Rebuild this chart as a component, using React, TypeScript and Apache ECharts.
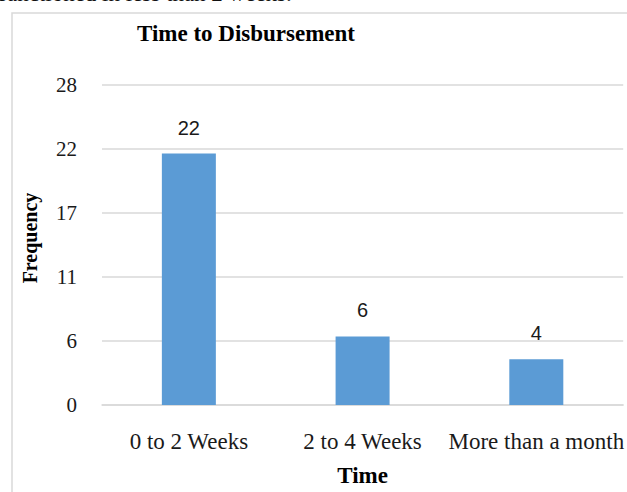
import React, { useEffect, useRef } from "react";
import * as echarts from "echarts";

const categories = ["0 to 2 Weeks", "2 to 4 Weeks", "More than a month"];
const frequencies = [22, 6, 4];
const yMin = 0;
const yMax = 28;
const yStep = 5.6;
const chartTitle = "Time to Disbursement";
const xTitle = "Time";
const yTitle = "Frequency";
const precedingLine = "sanctioned in less than 2 weeks.";

const SERIF = '"Liberation Serif", "Times New Roman", serif';
const SANS = '"Liberation Sans", Arial, sans-serif';
const GRID_GRAY = "#d9d9d9";
const BAR_BLUE = "#5b9bd5";
const TEXT = "#1a1a1a";

export default function App() {
  const ref = useRef<HTMLDivElement>(null);

  useEffect(() => {
    if (!ref.current) return;
    const chart = echarts.init(ref.current, undefined, { renderer: "svg" });
    chart.setOption({
      animation: false,
      backgroundColor: "#ffffff",
      graphic: [
        {
          // tail of the paragraph line that runs above the figure
          type: "text",
          x: -2,
          y: 5,
          style: {
            text: precedingLine,
            font: `23px ${SERIF}`,
            fill: "#111",
            textVerticalAlign: "bottom",
          },
        },
        {
          type: "rect",
          shape: { x: 12, y: 13, width: 700, height: 600 },
          style: { fill: "none", stroke: GRID_GRAY, lineWidth: 1.5 },
          z: -1,
        },
        {
          type: "text",
          x: 246,
          y: 33,
          style: {
            text: chartTitle,
            font: `bold 23px ${SERIF}`,
            fill: "#000",
            textAlign: "center",
            textVerticalAlign: "middle",
          },
        },
        {
          type: "text",
          x: 30,
          y: 238,
          rotation: Math.PI / 2,
          style: {
            text: yTitle,
            font: `bold 20px ${SERIF}`,
            fill: "#000",
            textAlign: "center",
            textVerticalAlign: "middle",
          },
        },
      ],
      grid: { left: 102, right: 3, top: 85, bottom: 83, containLabel: false },
      xAxis: {
        type: "category",
        data: categories,
        axisTick: { show: false },
        axisLine: { lineStyle: { color: GRID_GRAY, width: 1.5 } },
        axisLabel: {
          margin: 25,
          color: TEXT,
          fontFamily: SERIF,
          fontSize: 23,
          interval: 0,
        },
        name: xTitle,
        nameLocation: "middle",
        nameGap: 59,
        nameTextStyle: {
          fontFamily: SERIF,
          fontWeight: "bold",
          fontSize: 23,
          color: "#000",
        },
      },
      yAxis: {
        type: "value",
        min: yMin,
        max: yMax,
        interval: yStep,
        axisLine: { show: false },
        axisTick: { show: false },
        splitLine: { lineStyle: { color: GRID_GRAY, width: 1.5 } },
        axisLabel: {
          margin: 25,
          color: TEXT,
          fontFamily: SERIF,
          fontSize: 21,
          formatter: (v: number) => String(Math.round(v)),
        },
      },
      series: [
        {
          type: "bar",
          data: frequencies,
          barWidth: 54,
          itemStyle: { color: BAR_BLUE },
          label: {
            show: true,
            position: "top",
            distance: 16,
            color: TEXT,
            fontFamily: SANS,
            fontSize: 20,
          },
        },
      ],
    });
    return () => chart.dispose();
  }, []);

  return (
    <div
      ref={ref}
      style={{ position: "fixed", left: 0, top: 0, width: 627, height: 492 }}
    />
  );
}
